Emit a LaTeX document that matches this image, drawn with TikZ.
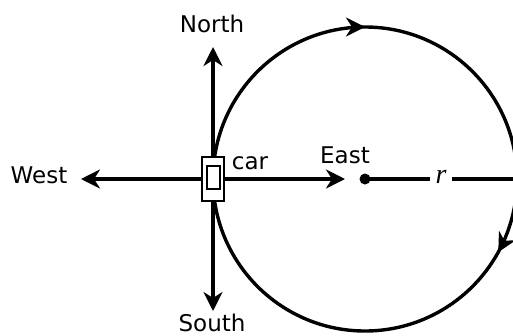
\documentclass[tikz,border=0pt]{standalone}
\usepackage{fontspec}
\setsansfont{DejaVu Sans}
\newfontfamily\rfont{Liberation Serif}
\usetikzlibrary{arrows.meta,decorations.markings}
\tikzset{
  heading/.style={draw=none, font=\sffamily\fontsize{23}{26}\selectfont, inner sep=0pt},
  compass/.style={line width=3.4pt, -{Stealth[length=19pt,width=19pt,inset=6pt]}},
  carpart/.style={draw, fill=white, line width=2.6pt, inner sep=0pt},
}
\begin{document}
\begin{tikzpicture}[x=1pt,y=-1pt]
\useasboundingbox (0,0) rectangle (513,335);

\coordinate (start) at (213,179);
\coordinate (centre) at (365,179);
\coordinate (rim) at (517,179);

% the track
\draw[line width=3.4pt, postaction={decorate, decoration={markings,
    mark=at position 0.25 with {\arrow{Stealth[length=19pt,width=19pt,inset=6pt]}},
    mark=at position 0.58 with {\arrow{Stealth[length=19pt,width=19pt,inset=6pt]}}}}]
  (start) arc[start angle=180, end angle=540, radius=152];

\node[heading] (north) at (212,24) {North};
\node[heading] (south) at (212,323) {South};
\node[heading] (west) at (39,175) {West};
\node[heading] (east) at (345,155) {East};
\node[heading] (carlabel) at (250,163) {car};

\node[carpart, minimum width=22pt, minimum height=44pt] (carbody) at (213,179) {};
\node[carpart, minimum width=13pt, minimum height=23pt] (carcab) at (213.5,177.5) {};

\coordinate (northend) at (213,47);
\coordinate (southend) at (213,311);
\coordinate (westend) at (81,179);
\coordinate (eastend) at (345,179);

\draw[compass] (carbody) -- (northend);
\draw[compass] (carbody) -- (southend);
\draw[compass] (carbody) -- (westend);
\draw[compass] (carbody) -- (eastend);

\fill (centre) circle (5.5);
\node[inner sep=0pt, minimum width=22pt, font=\rfont\itshape\fontsize{28}{30}\selectfont] (radius) at (441,177) {r};
\draw[line width=3.2pt] (centre) -- (radius.west |- centre);
\draw[line width=3.2pt] (radius.east |- centre) -- (rim);
\end{tikzpicture}
\end{document}
